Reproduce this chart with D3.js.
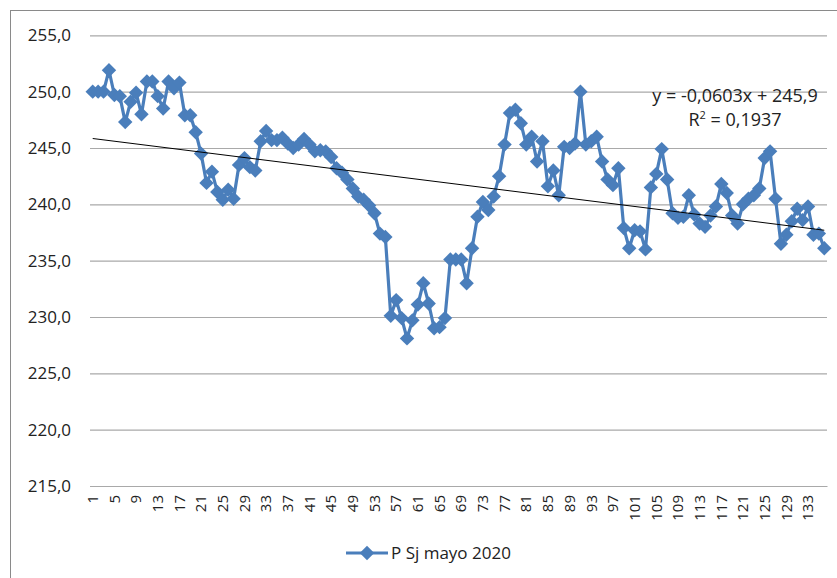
<!DOCTYPE html>
<html>
<head>
<meta charset="utf-8">
<script src="https://cdn.jsdelivr.net/npm/d3@7/dist/d3.min.js"></script>
<style>
  html, body { margin: 0; padding: 0; background: #fff; }
  svg { display: block; font-family: "Open Sans", "Noto Sans", sans-serif; }
</style>
</head>
<body>
<script>
// Daily values of "P Sj" for May 2020, one per observation (1..136)
const seriesName = "P Sj mayo 2020";
const values = [
  250.0, 250.0, 250.0, 251.9, 249.7, 249.6, 247.3, 249.1, 249.9, 248.0,
  250.9, 250.9, 249.6, 248.5, 250.9, 250.3, 250.8, 247.9, 247.9, 246.4,
  244.5, 241.9, 242.9, 241.1, 240.4, 241.3, 240.5, 243.5, 244.1, 243.3,
  243.0, 245.6, 246.5, 245.7, 245.7, 245.9, 245.4, 245.0, 245.3, 245.8,
  245.3, 244.7, 244.8, 244.7, 244.2, 243.2, 242.8, 242.2, 241.4, 240.7,
  240.4, 239.9, 239.2, 237.4, 237.1, 230.1, 231.5, 229.9, 228.1, 229.7,
  231.1, 233.0, 231.2, 229.0, 229.1, 229.9, 235.1, 235.1, 235.1, 233.0,
  236.1, 238.9, 240.2, 239.5, 240.7, 242.5, 245.3, 248.1, 248.4, 247.2,
  245.3, 246.0, 243.8, 245.6, 241.6, 243.0, 240.8, 245.1, 245.0, 245.4,
  250.0, 245.3, 245.6, 246.0, 243.8, 242.2, 241.7, 243.2, 237.9, 236.1,
  237.7, 237.6, 236.0, 241.5, 242.7, 244.9, 242.2, 239.2, 238.8, 238.9,
  240.8, 239.1, 238.3, 238.0, 239.0, 239.8, 241.8, 241.0, 239.0, 238.3,
  240.0, 240.5, 240.8, 241.4, 244.1, 244.7, 240.5, 236.5, 237.3, 238.5,
  239.6, 238.6, 239.8, 237.3, 237.4, 236.1
];
const categories = values.map((_, i) => i + 1);
const xTickLabels = categories.filter(c => (c - 1) % 4 === 0);
const yTicks = [215, 220, 225, 230, 235, 240, 245, 250, 255];

// Linear trend: y = slope * x + intercept
const trendSlope = -0.0603;
const trendIntercept = 245.9;
const trendR2 = 0.1937;

const W = 837, H = 578;
const blue = "#4a7ebb";
const gridColor = "#a9a9a9";

const commaFmt = d => d3.format(".1f")(d).replace(".", ",");
const commaFmt4 = v => d3.format(".4f")(v).replace(".", ",").replace("\u2212", "-");

const svg = d3.select("body").append("svg")
  .attr("width", W).attr("height", H);

svg.append("rect").attr("width", W).attr("height", H).attr("fill", "#fff");

// outer chart frame
svg.append("rect")
  .attr("x", 10.5).attr("y", 10.5)
  .attr("width", 900).attr("height", 700)
  .attr("fill", "none").attr("stroke", "#8a8a8a").attr("stroke-width", 1);

const plot = { left: 90, right: 827, top: 35.3, bottom: 486 };

const x = d3.scaleBand().domain(categories).range([plot.left, plot.right]).padding(0);
const y = d3.scaleLinear().domain([215, 255]).range([plot.bottom, plot.top]);
const cx = c => x(c) + x.bandwidth() / 2;

// horizontal gridlines (the 215 line doubles as the category axis)
const yAxis = d3.axisLeft(y)
  .tickValues(yTicks)
  .tickSize(-(plot.right - plot.left))
  .tickPadding(19)
  .tickFormat(commaFmt);

const gy = svg.append("g")
  .attr("transform", `translate(${plot.left},0)`)
  .call(yAxis);
gy.select(".domain").remove();
gy.selectAll(".tick line").attr("stroke", gridColor).attr("stroke-width", 1.2);
gy.selectAll(".tick text")
  .attr("fill", "#222").attr("font-size", 17)
  .attr("font-family", "'Open Sans', sans-serif");

// category axis with rotated labels
const xAxis = d3.axisBottom(x)
  .tickValues(xTickLabels)
  .tickSize(0)
  .tickPadding(0);

const gx = svg.append("g")
  .attr("transform", `translate(0,${plot.bottom})`)
  .call(xAxis);
gx.select(".domain").attr("stroke", gridColor).attr("stroke-width", 1.2);
gx.selectAll(".tick text")
  .attr("fill", "#222").attr("font-size", 15)
  .attr("font-family", "'Open Sans', sans-serif")
  .attr("text-anchor", "end")
  .attr("dy", "0.35em")
  .attr("transform", "translate(0,9) rotate(-90)")
  .attr("x", 0).attr("y", 0);

// data line
const line = d3.line().x((d, i) => cx(categories[i])).y(d => y(d));
svg.append("path")
  .datum(values)
  .attr("fill", "none")
  .attr("stroke", blue)
  .attr("stroke-width", 3.2)
  .attr("stroke-linejoin", "round")
  .attr("d", line);

// diamond markers
const diamond = d3.symbol().type(d3.symbolSquare).size(104);
svg.append("g").selectAll("path")
  .data(values)
  .join("path")
  .attr("d", diamond)
  .attr("fill", blue)
  .attr("transform", (d, i) => `translate(${cx(categories[i])},${y(d)}) rotate(45)`);

// linear trendline
const first = categories[0], last = categories[categories.length - 1];
svg.append("line")
  .attr("x1", cx(first)).attr("y1", y(trendSlope * first + trendIntercept))
  .attr("x2", cx(last)).attr("y2", y(trendSlope * last + trendIntercept))
  .attr("stroke", "#000").attr("stroke-width", 1);

// trend equation label
const eqText = `y = ${commaFmt4(trendSlope)}x + ${commaFmt(trendIntercept)}`;
const eq = svg.append("g").attr("font-size", 18).attr("fill", "#222").attr("text-anchor", "middle");
eq.append("text").attr("x", 735).attr("y", 102).text(eqText);
const r2 = eq.append("text").attr("x", 735).attr("y", 126);
r2.append("tspan").text("R");
r2.append("tspan").attr("font-size", 11).attr("dy", -7).text("2");
r2.append("tspan").attr("dy", 7).text(" = " + commaFmt4(trendR2));

// legend
const lg = svg.append("g").attr("transform", "translate(346,553)");
lg.append("line").attr("x1", 0).attr("x2", 42).attr("y1", 0).attr("y2", 0)
  .attr("stroke", blue).attr("stroke-width", 3.2);
lg.append("path").attr("d", diamond).attr("fill", blue)
  .attr("transform", "translate(21,0) rotate(45)");
lg.append("text").attr("x", 45).attr("y", 6).attr("font-size", 17).attr("fill", "#222")
  .text(seriesName);
</script>
</body>
</html>
